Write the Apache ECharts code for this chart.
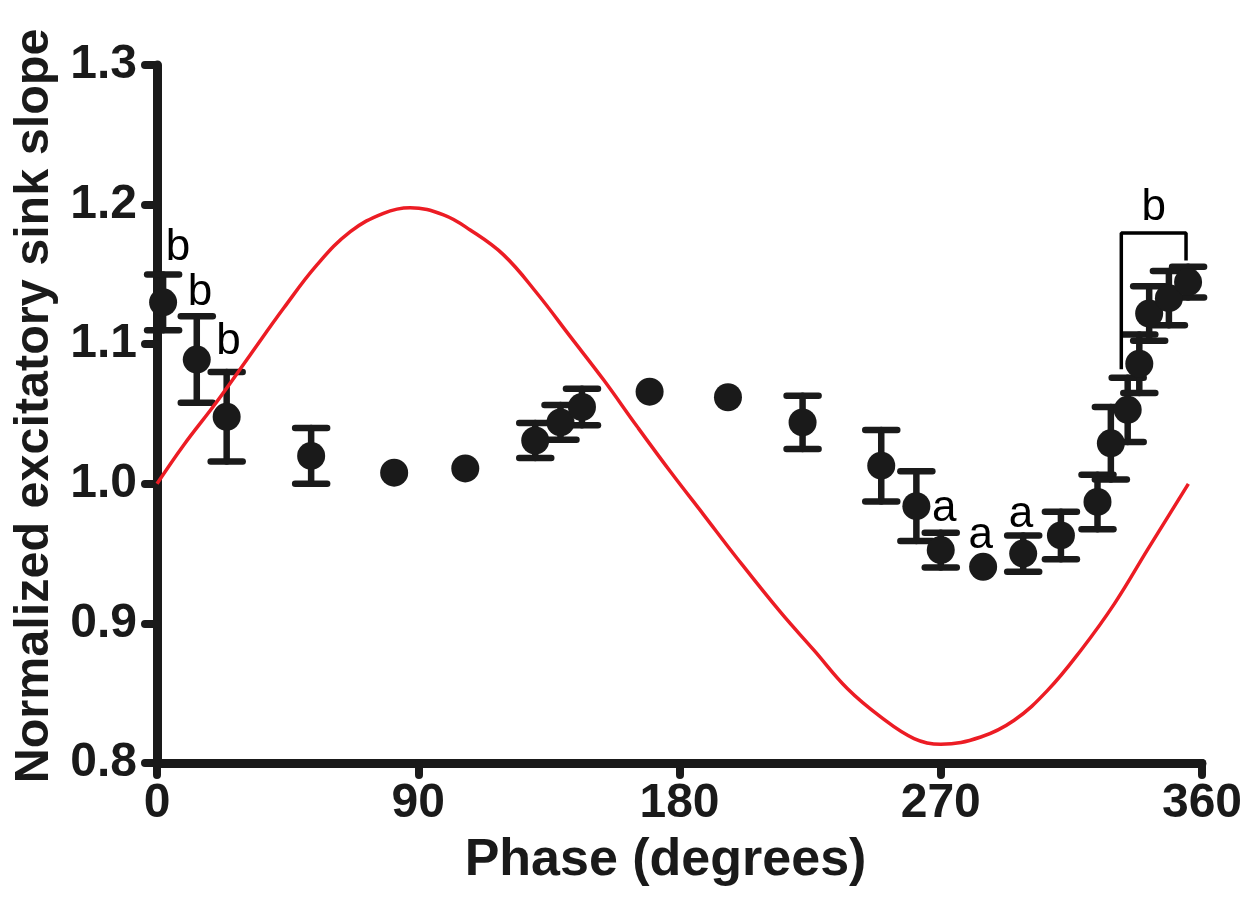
<!DOCTYPE html>
<html>
<head>
<meta charset="utf-8">
<script src="https://cdn.jsdelivr.net/npm/echarts@6/dist/echarts.min.js"></script>
<style>
html,body{margin:0;padding:0;background:#fff;}
#chart{width:1248px;height:901px;}
</style>
</head>
<body>
<div id="chart"></div>
<script>
// ---- data ----
const phaseDeg = [2.1, 13.7, 24.0, 53.1, 81.7, 106.2, 130.3, 139.0, 146.4, 169.7, 196.7, 222.4, 249.5, 261.6, 270.0, 284.6, 298.4, 311.4, 324.0, 328.6, 334.4, 338.4, 341.8, 348.6, 355.2];
const slopeMean = [1.130, 1.089, 1.048, 1.020, 1.008, 1.011, 1.031, 1.044, 1.055, 1.066, 1.062, 1.044, 1.013, 0.984, 0.9525, 0.9405, 0.950, 0.963, 0.987, 1.029, 1.053, 1.086, 1.122, 1.133, 1.1445];
const slopeErr  = [0.020, 0.031, 0.032, 0.020, 0, 0, 0.0125, 0.0125, 0.013, 0, 0, 0.019, 0.0256, 0.025, 0.0125, 0, 0.013, 0.017, 0.0195, 0.026, 0.023, 0.021, 0.0195, 0.0195, 0.011];

// red reference curve at these phases
const sineX = [0, 9.1, 20.6, 32.1, 43.6, 55.1, 66.6, 78.0, 87.2, 98.7, 107.9, 119.4, 130.9, 142.4, 153.9, 165.4, 176.9, 188.4, 199.9, 214.8, 226.3, 237.8, 249.3, 260.8, 270.0, 283.8, 295.3, 306.8, 318.3, 329.8, 341.3, 355.3];
const sineY = [1.000, 1.0275, 1.0588, 1.0923, 1.1257, 1.1568, 1.1806, 1.1938, 1.1978, 1.1926, 1.1818, 1.1640, 1.1365, 1.1054, 1.0743, 1.0410, 1.0086, 0.9776, 0.9465, 0.9080, 0.8808, 0.8533, 0.8330, 0.8175, 0.8134, 0.8186, 0.8306, 0.8520, 0.8808, 0.9140, 0.9530, 1.0000];

const labelX = [7.2, 14.8, 24.6, 271.2, 283.8, 297.6, 343.4];
const labelY = [1.169, 1.137, 1.102, 0.982, 0.963, 0.978, 1.198];
const labelText = ['b', 'b', 'b', 'a', 'a', 'a', 'b'];

const bracketX = [332.2, 332.2, 354.5, 354.5];
const bracketY = [1.082, 1.1796, 1.1796, 1.160];

const xTicks = [0, 90, 180, 270, 360];
const yTicks = [0.8, 0.9, 1.0, 1.1, 1.2, 1.3];

// ---- chart ----
const INK = '#1a1a1a';
const FONT = 'Liberation Sans, Arial, sans-serif';
const chart = echarts.init(document.getElementById('chart'));

const points = phaseDeg.map((x, i) => [x, slopeMean[i], slopeErr[i]]);
const sine = sineX.map((x, i) => [x, sineY[i]]);
const labels = labelX.map((x, i) => [x, labelY[i], labelText[i]]);
const bracket = bracketX.map((x, i) => [x, bracketY[i]]);

const axisCommon = {
  type: 'value',
  splitLine: {show: false},
  axisLine: {show: true, onZero: false, lineStyle: {color: INK, width: 9, cap: 'round'}},
  axisTick: {show: true, inside: false, length: 12, lineStyle: {color: INK, width: 8, cap: 'round'}},
  axisLabel: {color: INK, fontSize: 48, fontWeight: 'bold', fontFamily: FONT}
};

chart.setOption({
  backgroundColor: '#fff',
  animation: false,
  grid: {left: 157, right: 46, top: 65, bottom: 138, containLabel: false},
  xAxis: Object.assign({}, axisCommon, {
    min: xTicks[0], max: xTicks[xTicks.length - 1], interval: 90,
    name: 'Phase (degrees)', nameLocation: 'middle', nameGap: 72,
    axisLabel: Object.assign({}, axisCommon.axisLabel, {margin: 17}),
    nameTextStyle: {color: INK, fontSize: 52, fontWeight: 'bold', fontFamily: FONT, padding: [0, 28, 0, 0]}
  }),
  yAxis: Object.assign({}, axisCommon, {
    min: yTicks[0], max: yTicks[yTicks.length - 1], interval: 0.1,
    name: 'Normalized excitatory sink slope', nameLocation: 'middle', nameGap: 96,
    axisLabel: Object.assign({}, axisCommon.axisLabel, {margin: 20, formatter: v => v.toFixed(1)}),
    nameTextStyle: {color: INK, fontSize: 48.5, fontWeight: 'bold', fontFamily: FONT, padding: [0, 0, 0, 16]}
  }),
  series: [
    {
      type: 'custom',
      z: 2,
      data: points,
      renderItem: function (params, api) {
        const x = api.value(0), y = api.value(1), e = api.value(2);
        if (!e) return {type: 'group', children: []};
        const top = api.coord([x, y + e]);
        const bot = api.coord([x, y - e]);
        const hw = 16;
        const style = {stroke: INK, lineWidth: 6.5, lineCap: 'round'};
        return {
          type: 'group',
          children: [
            {type: 'line', shape: {x1: top[0], y1: top[1], x2: bot[0], y2: bot[1]}, style: style},
            {type: 'line', shape: {x1: top[0] - hw, y1: top[1], x2: top[0] + hw, y2: top[1]}, style: style},
            {type: 'line', shape: {x1: bot[0] - hw, y1: bot[1], x2: bot[0] + hw, y2: bot[1]}, style: style}
          ]
        };
      }
    },
    {
      type: 'scatter',
      z: 3,
      data: points.map(p => [p[0], p[1]]),
      symbol: 'circle',
      symbolSize: 28,
      itemStyle: {color: INK, opacity: 1}
    },
    {
      type: 'line',
      z: 4,
      data: sine,
      smooth: 0.4,
      showSymbol: false,
      symbol: 'none',
      lineStyle: {color: '#ec1c24', width: 3.5}
    },
    {
      type: 'line',
      z: 4,
      data: bracket,
      showSymbol: false,
      symbol: 'none',
      lineStyle: {color: '#000', width: 3.5}
    },
    {
      type: 'scatter',
      z: 5,
      data: labels,
      symbolSize: 1,
      itemStyle: {color: 'transparent', opacity: 1},
      label: {
        show: true,
        position: 'inside',
        formatter: p => p.data[2],
        color: '#000',
        opacity: 1,
        fontSize: 44,
        fontFamily: FONT
      }
    }
  ]
});
</script>
</body>
</html>
